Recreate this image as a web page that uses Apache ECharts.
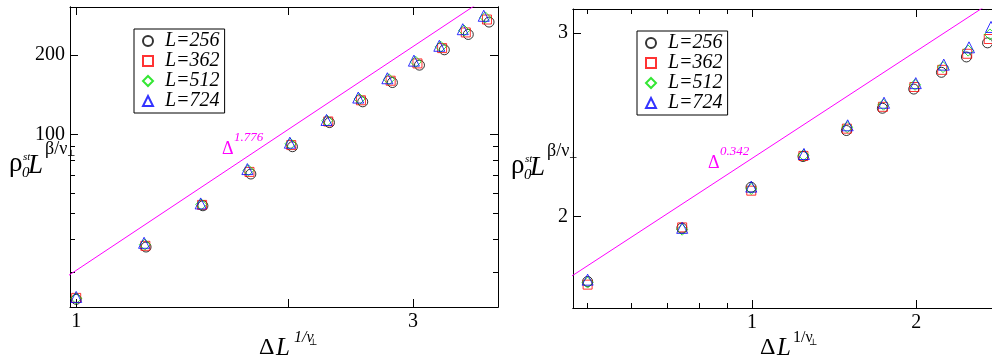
<!DOCTYPE html>
<html>
<head>
<meta charset="utf-8">
<script src="https://cdn.jsdelivr.net/npm/echarts@6/dist/echarts.min.js"></script>
<style>html,body{margin:0;padding:0;background:#fff;}#c{width:992px;height:363px;}</style>
</head>
<body>
<div id="c"></div>
<script>
// ---------- Left panel data (x = ΔL^{1/ν⊥}, y = ρ0^st L^{β/ν⊥}) ----------
const leftX256 = [1.0, 1.256, 1.512, 1.768, 2.025, 2.285, 2.547, 2.806, 3.065, 3.324, 3.594, 3.846];
const leftX362 = [1.0, 1.253, 1.508, 1.760, 2.017, 2.276, 2.532, 2.790, 3.045, 3.300, 3.565, 3.820];
const leftX512 = [1.0, 1.251, 1.504, 1.754, 2.012, 2.268, 2.520, 2.775, 3.028, 3.285, 3.545, 3.800];
const leftX724 = [1.0, 1.248, 1.501, 1.748, 2.008, 2.263, 2.510, 2.760, 3.010, 3.270, 3.530, 3.780];
const leftY256 = [23.7, 37.4, 53.6, 70.7, 89.7, 110.7, 132.7, 157.0, 182.7, 208.9, 238.8, 266.0];
const leftY362 = [24.0, 37.8, 54.0, 72.0, 91.0, 111.8, 134.5, 159.5, 185.5, 212.0, 243.0, 272.0];
const leftY512 = [23.9, 38.2, 54.2, 73.0, 92.0, 112.5, 136.0, 161.5, 188.0, 214.5, 247.0, 277.0];
const leftY724 = [24.2, 38.8, 54.7, 73.8, 92.9, 113.3, 137.7, 163.0, 190.0, 216.3, 250.0, 281.0];
const leftFitX = [0.97, 4.0];
const leftFitY = [28.9, 358];

// ---------- Right panel data ----------
const rightX256 = [0.5, 0.744, 0.996, 1.240, 1.489, 1.733, 1.978, 2.223, 2.470, 2.700];
const rightX362 = [0.5, 0.745, 0.997, 1.242, 1.492, 1.737, 1.983, 2.230, 2.478, 2.714];
const rightX512 = [0.5, 0.745, 0.997, 1.243, 1.494, 1.741, 1.989, 2.238, 2.488, 2.727];
const rightX724 = [0.5, 0.745, 0.997, 1.245, 1.497, 1.745, 1.995, 2.245, 2.497, 2.740];
const rightY256 = [1.732, 1.949, 2.133, 2.283, 2.418, 2.540, 2.650, 2.750, 2.845, 2.935];
const rightY362 = [1.720, 1.952, 2.117, 2.286, 2.428, 2.548, 2.662, 2.765, 2.865, 2.960];
const rightY512 = [1.728, 1.942, 2.125, 2.290, 2.436, 2.560, 2.675, 2.782, 2.885, 2.990];
const rightY724 = [1.739, 1.950, 2.136, 2.296, 2.446, 2.571, 2.685, 2.797, 2.906, 3.040];
const rightFitX = [0.45, 3.5];
const rightFitY = [1.73, 3.49];

// ---------- Series names and ticks ----------
const names = ['L=256', 'L=362', 'L=512', 'L=724'];
const leftXMajorTicks = [1, 2, 3];
const leftXTickLabels = [1, 3];
const leftYMajorTicks = [100, 200];
const leftYMinorTicks = [30, 40, 50, 60, 70, 80, 90];
const rightXMajorTicks = [1, 2, 3];
const rightXTickLabels = [1, 2];
const rightXMinorTicks = [0.5, 0.6, 0.7, 0.8, 0.9];
const rightYMajorTicks = [2, 3];
const rightYTickLabels = [2, 3];

const L10 = Math.log10;
const colors = ['#000000', '#ff0000', '#00e000', '#0000ff'];
const symbols = ['circle', 'rect', 'diamond', 'triangle'];
const sizes = [10, 9, 11, 11];
const SERIF = '"Liberation Serif", "DejaVu Serif", serif';

function pairs(xs, ys) { return xs.map((x, i) => [L10(x), L10(ys[i])]); }

function axis(grid, pos, min, max, ticks, len, labels) {
  const a = {
    type: 'value', gridIndex: grid, position: pos, min: min, max: max,
    axisLine: { show: true, onZero: false, lineStyle: { color: '#000', width: 1 } },
    axisTick: { show: true, inside: true, length: len, customValues: ticks.map(L10), lineStyle: { color: '#000', width: 1 } },
    axisLabel: { show: false },
    splitLine: { show: false }
  };
  if (labels) {
    a.axisLabel = {
      show: true, customValues: labels.map(L10), margin: 5,
      formatter: v => String(Math.round(Math.pow(10, v))),
      fontFamily: SERIF, fontSize: 20, color: '#000'
    };
  }
  return a;
}

const lx = [L10(0.98), 0.5977], ly = [1.3457, 2.482];
const rx = [-0.3278, 0.478], ry = [0.2131, 0.5001];

const xAxes = [
  axis(0, 'bottom', lx[0], lx[1], leftXMajorTicks, 8, leftXTickLabels),
  axis(0, 'top', lx[0], lx[1], leftXMajorTicks, 8, null),
  axis(1, 'bottom', rx[0], rx[1], rightXMajorTicks, 8, rightXTickLabels),
  axis(1, 'bottom', rx[0], rx[1], rightXMinorTicks, 5, null),
  axis(1, 'top', rx[0], rx[1], rightXMajorTicks, 8, null),
  axis(1, 'top', rx[0], rx[1], rightXMinorTicks, 5, null)
];
const yAxes = [
  axis(0, 'left', ly[0], ly[1], leftYMajorTicks, 8, leftYMajorTicks),
  axis(0, 'left', ly[0], ly[1], leftYMinorTicks, 5, null),
  axis(0, 'right', ly[0], ly[1], leftYMajorTicks, 8, null),
  axis(0, 'right', ly[0], ly[1], leftYMinorTicks, 5, null),
  axis(1, 'left', ry[0], ry[1], rightYMajorTicks, 8, rightYTickLabels),
  axis(1, 'right', ry[0], ry[1], rightYMajorTicks, 8, null)
];

const leftXs = [leftX256, leftX362, leftX512, leftX724];
const leftYs = [leftY256, leftY362, leftY512, leftY724];
const rightXs = [rightX256, rightX362, rightX512, rightX724];
const rightYs = [rightY256, rightY362, rightY512, rightY724];

const series = [];
function scatter(i, xs, ys, xi, yi) {
  return {
    type: 'scatter', name: names[i], xAxisIndex: xi, yAxisIndex: yi,
    symbol: symbols[i], symbolSize: sizes[i], z: 3 + i,
    itemStyle: { color: 'rgba(255,255,255,0)', borderColor: colors[i], borderWidth: 1 },
    emphasis: { disabled: true },
    data: pairs(xs, ys)
  };
}
for (let i = 0; i < 4; i++) series.push(scatter(i, leftXs[i], leftYs[i], 0, 0));
series.push({ type: 'line', xAxisIndex: 0, yAxisIndex: 0, showSymbol: false, clip: true, z: 2,
  lineStyle: { color: '#ff00ff', width: 1 }, data: pairs(leftFitX, leftFitY) });
for (let i = 0; i < 4; i++) series.push(scatter(i, rightXs[i], rightYs[i], 2, 4));
series.push({ type: 'line', xAxisIndex: 2, yAxisIndex: 4, showSymbol: false, clip: true, z: 2,
  lineStyle: { color: '#ff00ff', width: 1 }, data: pairs(rightFitX, rightFitY) });

function legend(left, top) {
  return {
    data: names, orient: 'vertical', left: left, top: top,
    backgroundColor: '#fff', borderColor: '#000', borderWidth: 1,
    padding: [2, 5, 2, 8], itemWidth: 10, itemHeight: 10, itemGap: 0,
    selectedMode: false,
    textStyle: { fontFamily: SERIF, fontStyle: 'italic', fontSize: 20, color: '#000', lineHeight: 18.3, padding: [0, 0, 0, 7] }
  };
}

function T(x, y, text, size, opts) {
  opts = opts || {};
  return { type: 'text', x: x, y: y, z: 100, silent: true,
    style: { text: text, fill: opts.fill || '#000', fontSize: size, fontFamily: SERIF,
      fontStyle: opts.italic ? 'italic' : 'normal', verticalAlign: 'middle', align: 'left' } };
}

function yTitle(dx, dy) {
  return [
    T(9 + dx, 164 + dy, 'ρ', 27),
    T(23 + dx, 157 + dy, 'st', 11, { italic: true }),
    T(22 + dx, 173 + dy, '0', 15, { italic: true }),
    T(28 + dx, 166 + dy, 'L', 27, { italic: true }),
    T(45 + dx, 149 + dy, 'β/ν', 18),
    T(67 + dx, 154 + dy, '⊥', 9)
  ];
}

const graphics = [].concat(
  yTitle(0, 0), yTitle(502, 2),
  [
    T(259, 348, 'Δ', 24), T(276, 348, 'L', 25, { italic: true }),
    T(294, 338, '1/ν', 16, { italic: true }), T(309, 343, '⊥', 9),
    T(760, 348, 'Δ', 24), T(777, 348, 'L', 25, { italic: true }),
    T(793, 338, '1/ν', 16), T(809, 343, '⊥', 9),
    T(222, 149, 'Δ', 18, { fill: '#ff00ff' }), T(234, 138, '1.776', 13, { fill: '#ff00ff', italic: true }),
    T(708, 163, 'Δ', 18, { fill: '#ff00ff' }), T(720, 152, '0.342', 13, { fill: '#ff00ff', italic: true })
  ]
);

const chart = echarts.init(document.getElementById('c'), null, { renderer: 'canvas' });
chart.setOption({
  animation: false,
  backgroundColor: '#fff',
  grid: [
    { left: 70, top: 7, width: 428, height: 300, containLabel: false, outerBoundsMode: 'none' },
    { left: 573, top: 9, width: 440, height: 299, containLabel: false, outerBoundsMode: 'none' }
  ],
  legend: [legend(134, 29), legend(637, 31)],
  xAxis: xAxes,
  yAxis: yAxes,
  series: series,
  graphic: graphics
});
</script>
</body>
</html>
